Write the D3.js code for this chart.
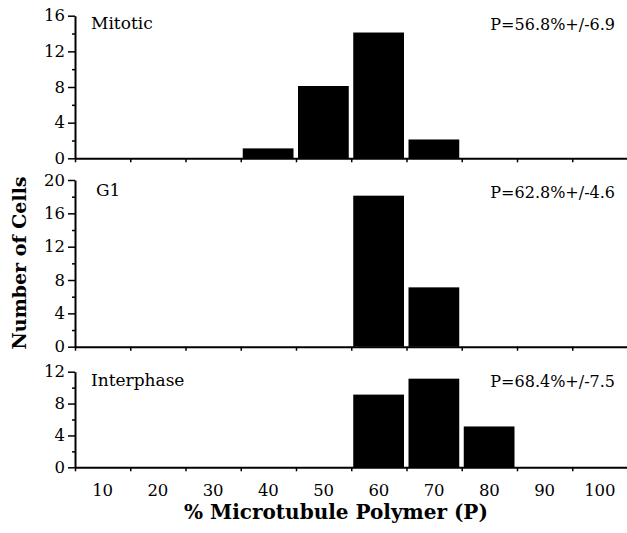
<!DOCTYPE html>
<html><head><meta charset="utf-8">
<script src="https://cdn.jsdelivr.net/npm/d3@7"></script>
<style>body{margin:0;background:#fff}svg{display:block}</style>
</head><body>
<svg id="c" width="627" height="533"></svg>
<script>
const bins = [10,20,30,40,50,60,70,80,90,100];
const mitotic = [0,0,0,1,8,14,2,0,0,0];
const g1 = [0,0,0,0,0,18,7,0,0,0];
const interphase = [0,0,0,0,0,9,11,5,0,0];
const panelNames = ["Mitotic","G1","Interphase"];
const panelStats = ["P=56.8%+/-6.9","P=62.8%+/-4.6","P=68.4%+/-7.5"];
const yMaxes = [16,20,12];
const xTitle = "% Microtubule Polymer (P)";
const yTitle = "Number of Cells";

const svg = d3.select("#c");
const font = "DejaVu Serif";
const x = d3.scaleLinear().domain([5,105]).range([75,627.5]);
const panels = [
  {data: mitotic, top: 15.7, bottom: 158.3, lx: 91, ly: 29, py: 30},
  {data: g1, top: 180, bottom: 346.7, lx: 96, ly: 196, py: 198},
  {data: interphase, top: 371.7, bottom: 467.3, lx: 91, ly: 386, py: 387}
];
panels.forEach((p,i) => {
  const y = d3.scaleLinear().domain([0,yMaxes[i]]).range([p.bottom,p.top]);
  const g = svg.append("g");
  g.selectAll("rect").data(bins.map((b,j)=>({b,v:p.data[j]})).filter(d=>d.v>0))
    .enter().append("rect")
    .attr("x", d=>x(d.b-5)+2)
    .attr("width", d=>x(d.b+5)-x(d.b-5)-4.5)
    .attr("y", d=>y(d.v)-1)
    .attr("height", d=>p.bottom-y(d.v)+1)
    .attr("fill","#000");
  const ya = d3.axisLeft(y).tickValues(d3.range(0,yMaxes[i]+1,4)).tickSize(7).tickSizeOuter(0).tickPadding(3);
  const yg = g.append("g").attr("transform","translate(75,0)").call(ya);
  yg.select(".domain").attr("stroke-width",2);
  yg.selectAll(".tick line").attr("stroke-width",1.5);
  yg.selectAll("text").attr("font-family",font).attr("font-size",16.5).attr("fill","#000");
  const ym = d3.axisLeft(y).tickValues(d3.range(2,yMaxes[i],4)).tickSize(3).tickFormat("");
  const ymg = g.append("g").attr("transform","translate(75,0)").call(ym);
  ymg.select(".domain").remove();
  ymg.selectAll(".tick line").attr("stroke-width",1.5);
  const xa = d3.axisBottom(x).tickValues(d3.range(5,105,10)).tickSize(4).tickSizeOuter(0).tickFormat("");
  const xg = g.append("g").attr("transform",`translate(0,${p.bottom})`).call(xa);
  xg.select(".domain").attr("stroke-width",2);
  xg.selectAll(".tick line").attr("stroke-width",1.5);
  g.append("text").attr("x",p.lx).attr("y",p.ly).attr("font-family",font).attr("font-size",17).text(panelNames[i]);
  g.append("text").attr("x",615).attr("y",p.py).attr("text-anchor","end").attr("font-family",font).attr("font-size",16).text(panelStats[i]);
});
svg.append("g").selectAll("text").data(bins).enter().append("text")
  .attr("x",d=>x(d)).attr("y",495.5).attr("text-anchor","middle")
  .attr("font-family",font).attr("font-size",16.5).text(d=>d);
svg.append("text").attr("x",336).attr("y",518.5).attr("text-anchor","middle")
  .attr("font-family",font).attr("font-weight","bold").attr("font-size",20).text(xTitle);
svg.append("text").attr("transform","translate(26,263) rotate(-90)").attr("text-anchor","middle")
  .attr("font-family",font).attr("font-weight","bold").attr("font-size",19).text(yTitle);
</script>
</body></html>
